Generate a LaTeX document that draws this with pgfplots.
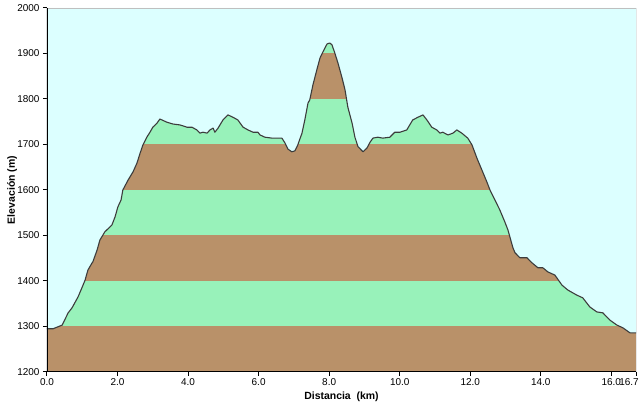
\documentclass[border=0pt]{standalone}
\usepackage{fontspec}
\setmainfont{Liberation Sans}
\usepackage{pgfplots}
\pgfplotsset{compat=1.18}
\usepackage{pgfplotstable}
\definecolor{brownb}{RGB}{185,145,105}
\definecolor{greenb}{RGB}{152,242,186}
\definecolor{skyb}{RGB}{220,255,255}
\definecolor{linec}{RGB}{60,60,60}
\pgfplotstableread{
x y
0 1295
0.17 1295
0.43 1303
0.60 1330
0.71 1341
0.88 1365
0.99 1385
1.08 1402
1.16 1424
1.28 1440
1.30 1442
1.42 1468
1.50 1490
1.64 1508
1.84 1523
1.93 1541
2.01 1563
2.10 1578
2.15 1600
2.30 1622
2.44 1640
2.55 1659
2.64 1681
2.72 1699
2.83 1716
2.92 1727
3.00 1738
3.12 1747
3.20 1756
3.40 1749
3.57 1745
3.77 1743
3.97 1738
4.11 1738
4.25 1732
4.34 1725
4.42 1727
4.54 1725
4.62 1732
4.71 1736
4.76 1727
4.85 1736
4.99 1754
5.13 1765
5.27 1760
5.41 1754
5.56 1738
5.70 1732
5.84 1727
5.98 1727
6.04 1721
6.18 1716
6.38 1714
6.55 1714
6.66 1714
6.75 1703
6.83 1690
6.94 1684
7.03 1686
7.11 1699
7.23 1725
7.31 1754
7.40 1791
7.45 1798
7.54 1831
7.65 1864
7.74 1890
7.82 1903
7.94 1921
8.02 1923
8.08 1919
8.16 1901
8.25 1879
8.36 1848
8.45 1820
8.53 1782
8.65 1747
8.73 1716
8.82 1695
8.96 1684
9.07 1692
9.16 1705
9.24 1714
9.38 1716
9.52 1714
9.72 1716
9.86 1727
10.01 1727
10.20 1732
10.37 1754
10.52 1760
10.66 1765
10.77 1754
10.91 1738
11.05 1732
11.14 1725
11.22 1727
11.37 1721
11.51 1725
11.62 1732
11.76 1725
11.93 1714
12.05 1699
12.19 1670
12.33 1644
12.47 1618
12.56 1600
12.70 1578
12.84 1556
12.98 1530
13.07 1512
13.21 1473
13.27 1462
13.41 1451
13.61 1451
13.75 1440
13.92 1429
14.06 1429
14.20 1420
14.40 1413
14.60 1391
14.77 1380
15.02 1369
15.19 1363
15.39 1343
15.59 1332
15.76 1330
15.96 1314
16.16 1303
16.33 1297
16.53 1286
16.70 1286
}\prof
\begin{document}
\begin{tikzpicture}
\begin{axis}[
  scale only axis, width=589bp, height=364bp,
  xmin=0, xmax=16.7, ymin=1200, ymax=2000,
  axis line style={draw=none},
  tick pos=left, tick align=outside,
  major tick length=4bp,
  tick style={black, line width=1bp},
  xtick={0,2,4,6,8,10,12,14,16},
  extra x ticks={16.7},
  extra x tick style={xticklabel style={xshift=-7bp}},
  ytick={1200,1300,...,2000},
  /pgf/number format/assume math mode=true,
  /pgf/number format/1000 sep={},
  xticklabel style={/pgf/number format/fixed, /pgf/number format/fixed zerofill, /pgf/number format/precision=1, yshift=1bp},
  ticklabel style={font=\fontsize{10}{12}\selectfont},
  xlabel={Distancia\ \ (km)},
  ylabel={Elevación (m)},
  label style={font=\fontsize{10.5}{12}\selectfont\bfseries},
  xlabel style={at={(axis description cs:0.5,-0.0687)}, anchor=center},
  ylabel style={at={(axis description cs:-0.0594,0.5)}, anchor=center},
]
\addplot[fill=brownb, draw=none] coordinates {(0,1200) (16.7,1200) (16.7,1300) (0,1300)} -- cycle;
\addplot[fill=greenb, draw=none] coordinates {(0,1300) (16.7,1300) (16.7,1400) (0,1400)} -- cycle;
\addplot[fill=brownb, draw=none] coordinates {(0,1400) (16.7,1400) (16.7,1500) (0,1500)} -- cycle;
\addplot[fill=greenb, draw=none] coordinates {(0,1500) (16.7,1500) (16.7,1600) (0,1600)} -- cycle;
\addplot[fill=brownb, draw=none] coordinates {(0,1600) (16.7,1600) (16.7,1700) (0,1700)} -- cycle;
\addplot[fill=greenb, draw=none] coordinates {(0,1700) (16.7,1700) (16.7,1800) (0,1800)} -- cycle;
\addplot[fill=brownb, draw=none] coordinates {(0,1800) (16.7,1800) (16.7,1900) (0,1900)} -- cycle;
\addplot[fill=greenb, draw=none] coordinates {(0,1900) (16.7,1900) (16.7,2000) (0,2000)} -- cycle;
\addplot[fill=skyb, draw=none] table[x=x,y=y] {\prof} -- (axis cs:16.7,2000) -- (axis cs:0,2000) -- cycle;
\addplot[color=linec, line width=1.1bp, line join=round] table[x=x,y=y] {\prof};
\draw[color=black!25, line width=0.6bp] (rel axis cs:0,1) -- (rel axis cs:1,1);
\draw[color=black!75, line width=1bp] (rel axis cs:1,0) -- (rel axis cs:1,1);
\draw[color=black, line width=1.6bp] (rel axis cs:0,1) -- (rel axis cs:0,0) -- (rel axis cs:1,0);
\coordinate (ll) at (rel axis cs:0,0);
\coordinate (ur) at (rel axis cs:1,1);
\end{axis}
\pgfresetboundingbox
\path ([shift={(-47bp,-34bp)}]ll) rectangle ([shift={(4bp,8bp)}]ur);
\end{tikzpicture}
\end{document}
